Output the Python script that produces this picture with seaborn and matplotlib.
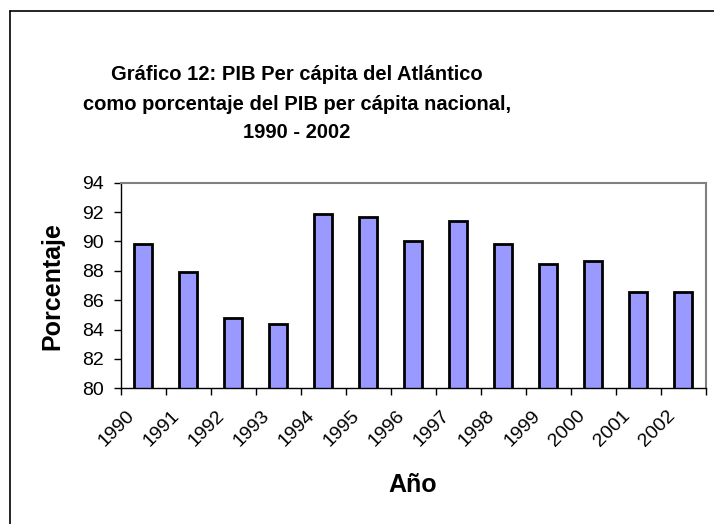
import matplotlib
matplotlib.use("Agg")
import matplotlib.pyplot as plt
import matplotlib.transforms as mtransforms
import seaborn as sns
import numpy as np
import pandas as pd
from matplotlib.lines import Line2D

years = ["1990", "1991", "1992", "1993", "1994", "1995", "1996",
         "1997", "1998", "1999", "2000", "2001", "2002"]
values = [89.8, 87.9, 84.8, 84.35, 91.85, 91.65, 90.05,
          91.4, 89.85, 88.45, 88.7, 86.55, 86.55]
yticks = [80, 82, 84, 86, 88, 90, 92, 94]

title_lines = ["Gráfico 12: PIB Per cápita del Atlántico",
               "como porcentaje del PIB per cápita nacional,",
               "1990 - 2002"]

sns.set_theme(style="white")
plt.rcParams['font.family'] = ['Liberation Sans', 'DejaVu Sans']
plt.rcParams['text.color'] = 'black'
plt.rcParams['xtick.color'] = 'black'
plt.rcParams['ytick.color'] = 'black'
plt.rcParams['axes.labelcolor'] = 'black'

W, H = 714, 524
fig = plt.figure(figsize=(W / 100, H / 100), dpi=100)
ax = fig.add_axes([120.7 / W, 1 - 388.3 / H, (706 - 120.7) / W, (388.3 - 182.7) / H])

df = pd.DataFrame({"Año": years, "Porcentaje": values})
sns.barplot(data=df, x="Año", y="Porcentaje", ax=ax, color="#9999FF",
            saturation=1, width=0.4, edgecolor="black", linewidth=2)

ax.set_ylim(80, 94)
ax.set_xlim(-0.5, len(years) - 0.5)
ax.set_yticks(yticks)
ax.set_yticklabels([str(t) for t in yticks], fontsize=14)
ax.set_xticks(range(len(years)))
ax.set_xticklabels([])
# rotated year labels, anchored below each category centre
offset = mtransforms.ScaledTranslation(-11 / 100, -25 / 100, fig.dpi_scale_trans)
xtrans = ax.get_xaxis_transform() + offset
for i, yr in enumerate(years):
    ax.text(i, 0, yr, transform=xtrans, rotation=45, ha="right", va="center",
            rotation_mode="anchor", fontsize=14, color="black", clip_on=False)
ax.set_xticks(np.arange(-0.5, len(years)), minor=True)
ax.tick_params(axis="x", which="major", length=0)
ax.tick_params(axis="x", which="minor", length=5, width=1, color="black",
               direction="out", bottom=True)
ax.tick_params(axis="y", which="major", length=5, width=1, color="black",
               direction="out", left=True, pad=7)
ax.set_xlabel("")
ax.set_ylabel("")

for s in ["left", "bottom"]:
    ax.spines[s].set_color("black")
    ax.spines[s].set_linewidth(1)
for s in ["top", "right"]:
    ax.spines[s].set_color("#808080")
    ax.spines[s].set_linewidth(1.5)

# titles
ys = [75, 104, 133]
for line, y in zip(title_lines, ys):
    fig.text(297 / W, 1 - y / H, line, ha="center", va="center",
             fontsize=14.5, fontweight="bold", color="black")

fig.text(52 / W, 1 - 286 / H, "Porcentaje", rotation=90, ha="center",
         va="center", fontsize=18, fontweight="bold", color="black")
fig.text(413 / W, 1 - 485 / H, "Año", ha="center", va="center",
         fontsize=18, fontweight="bold", color="black")

# chart area border (cropped on right and bottom)
fig.add_artist(Line2D([9.5 / W, 1], [1 - 10.5 / H, 1 - 10.5 / H],
                      transform=fig.transFigure, color="black", lw=1.2))
fig.add_artist(Line2D([9.5 / W, 9.5 / W], [0, 1 - 10.5 / H],
                      transform=fig.transFigure, color="black", lw=1.2))

fig.savefig("out.png", dpi=100)
